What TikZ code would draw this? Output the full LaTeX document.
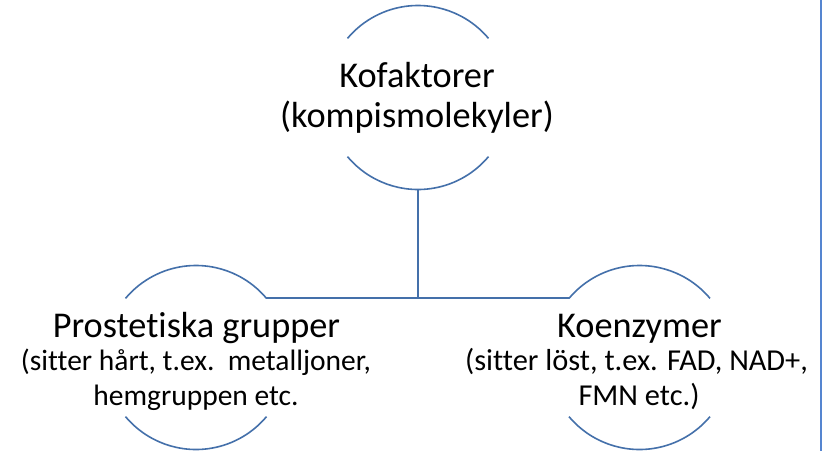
\documentclass[tikz,border=0pt]{standalone}
\usepackage{fontspec}
\setmainfont{Carlito}[Ligatures={NoCommon}]
\definecolor{arcblue}{HTML}{4470AA}
\definecolor{sideblue}{HTML}{5585D0}
\begin{document}
\begin{tikzpicture}[x=1pt,y=-1pt,
  ring/.style={circle,minimum size=184pt,inner sep=0pt,outer sep=0pt},
  arcline/.style={draw=arcblue,line width=1.6pt},
  conn/.style={draw=arcblue,line width=1.9pt},
  big/.style={anchor=base,inner sep=0pt,font=\fontsize{36.3}{42}\selectfont},
  small/.style={anchor=base,inner sep=0pt,font=\fontsize{29.5}{35}\selectfont},
  smallr/.style={anchor=base,inner sep=0pt,font=\fontsize{30.4}{35}\selectfont}]
\useasboundingbox[fill=white] (0,0) rectangle (823,451);
% circles
\node[ring] (top) at (418,97.5) {};
\node[ring] (left) at (196,357.5) {};
\node[ring] (right) at (639.5,357.5) {};
\foreach \c in {top,left,right}{
  \draw[arcline] (\c.40) arc[start angle=40,end angle=140,radius=92pt];
  \draw[arcline] (\c.220) arc[start angle=220,end angle=320,radius=92pt];
}
% connectors
\coordinate (junction) at (top.south |- left.40);
\draw[conn] (top.south) -- (junction);
\draw[conn] (left.40) -- (right.140);
% right border line
\coordinate (rt) at (821,0);
\coordinate (rb) at (821,451);
\draw[draw=sideblue,line width=2.2pt] (rt) -- (rb);
% texts
\node[big] (t1) at (417,87.5) {Kofaktorer};
\node[big] (t2) at (417,127.5) {(kompismolekyler)};
\node[big] (l1) at (196.5,337) {Prostetiska grupper};
\node[small] (l2) at (196,370) {(sitter hårt, t.ex.\ \ metalljoner,};
\node[small] (l3) at (196,405) {hemgruppen etc.};
\node[big] (r1) at (639.5,337) {Koenzymer};
\node[smallr] (r2) at (636.5,370) {(sitter löst, t.ex. FAD, NAD+,};
\node[smallr] (r3) at (639,405) {FMN etc.)};
\end{tikzpicture}
\end{document}
